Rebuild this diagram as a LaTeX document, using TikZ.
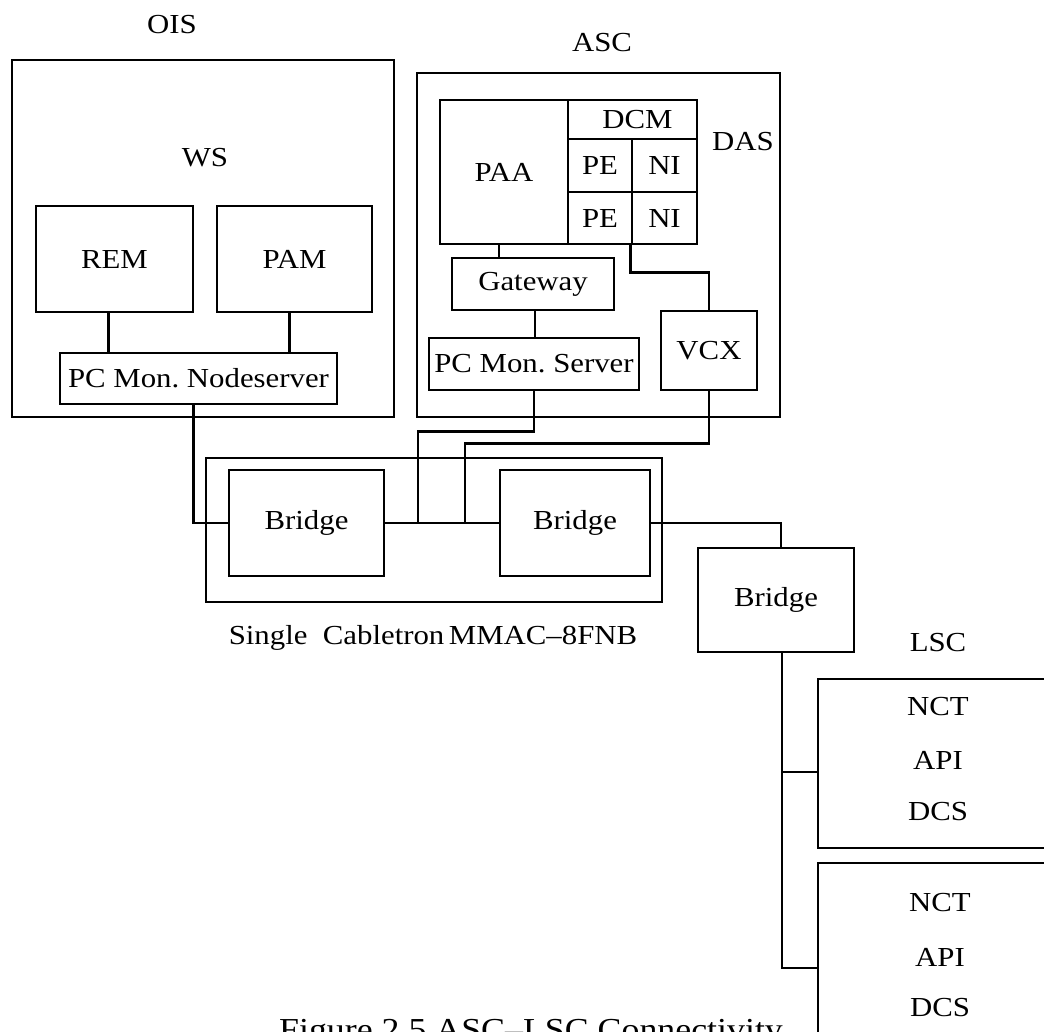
\documentclass[tikz,border=0pt]{standalone}
\usepackage{fontspec}
\setmainfont[FakeStretch=1.12]{Liberation Serif}
\begin{document}
\frenchspacing
\begin{tikzpicture}[x=1pt,y=-1pt,
  lbl/.style={font=\fontsize{27.5}{33}\selectfont, inner sep=0pt},
  box/.style={draw, line width=2.8pt, inner sep=0pt, font=\fontsize{27.5}{33}\selectfont},
  frame/.style={draw, line width=2.5pt, inner sep=0pt},
  wire/.style={line width=2.7pt}]
\useasboundingbox (0,0) rectangle (1044,1032);
% OIS
\node[lbl] (ois) at (172,25) {OIS};
\node[frame, minimum width=382pt, minimum height=357pt] (OIS) at (203,238.5) {};
\node[lbl] (ws) at (205,158) {WS};
\node[box, minimum width=157pt, minimum height=106pt] (REM) at (114.5,259) {REM};
\node[box, minimum width=155pt, minimum height=106pt] (PAM) at (294.5,259) {PAM};
\node[box, minimum width=277pt, minimum height=51pt] (NS) at (198.5,378.5) {PC Mon. Nodeserver};
\draw[wire] ([xshift=-6pt]REM.south) -- ([xshift=-6pt]REM.south |- NS.north);
\draw[wire] ([xshift=-5pt]PAM.south) -- ([xshift=-5pt]PAM.south |- NS.north);
% ASC
\node[lbl] (asc) at (602,43) {ASC};
\node[frame, minimum width=363pt, minimum height=344pt] (ASC) at (598.5,245) {};
\node[lbl] (das) at (743,142) {DAS};
\node[box, minimum width=128pt, minimum height=144pt] (PAA) at (504,172) {PAA};
\node[box, minimum width=129pt, minimum height=39pt, text width=129pt, align=center] (DCM) at (632.5,119.5) {\hspace*{10pt}DCM};
\node[box, minimum width=64pt, minimum height=53pt] (PE1) at (600,165.5) {PE};
\node[box, minimum width=65pt, minimum height=53pt] (NI1) at (664.5,165.5) {NI};
\node[box, minimum width=64pt, minimum height=52pt] (PE2) at (600,218) {PE};
\node[box, minimum width=65pt, minimum height=52pt] (NI2) at (664.5,218) {NI};
\node[box, minimum width=162pt, minimum height=52pt] (GW) at (533,284) {Gateway};
\node[box, minimum width=210pt, minimum height=52pt] (SRV) at (534,364) {PC Mon. Server};
\node[box, minimum width=96pt, minimum height=79pt] (VCX) at (709,350.5) {VCX};
\draw[wire] ([xshift=-5pt]PAA.south) -- ([xshift=-5pt]PAA.south |- GW.north);
\draw[wire] ([xshift=2pt]GW.south) -- ([xshift=2pt]GW.south |- SRV.north);
\draw[wire] (NI2.south west) -- ++(0,27) -| (VCX.north);
% Cabletron
\node[frame, minimum width=456pt, minimum height=144pt] (CAB) at (434,530) {};
\node[box, minimum width=155pt, minimum height=106pt] (B1) at (306.5,523) {Bridge};
\node[box, minimum width=150pt, minimum height=106pt] (B2) at (575,523) {Bridge};
\node[box, minimum width=156pt, minimum height=104pt] (B3) at (776,600) {Bridge};
\node[lbl] (cabl) at (433,638) {Single\ \ Cabletron\,MMAC--8FNB};
\coordinate (j1) at (418,523);
\coordinate (j2) at (465,523);
\draw[wire] (B1.east) -- (B2.west);
\draw[wire] ([xshift=-5pt]NS.south) |- (B1.west);
\draw[wire] (SRV.south) -- ++(0,40) -| (j1);
\draw[wire] (VCX.south) -- ++(0,52) -| (j2);
\draw[wire] (B2.east) -| ([xshift=5pt]B3.north);
% LSC
\node[lbl] (lsc) at (938,643) {LSC};
\node[box, minimum width=252pt, minimum height=169pt] (L1) at (944,763.5) {};
\node[box, minimum width=252pt, minimum height=210pt] (L2) at (944,968) {};
\node[lbl] (n1) at (938,707) {NCT};
\node[lbl] (a1) at (938,760) {API};
\node[lbl] (d1) at (938,812) {DCS};
\node[lbl] (n2) at (940,903) {NCT};
\node[lbl] (a2) at (940,957) {API};
\node[lbl] (d2) at (940,1008) {DCS};
\draw[wire] ([xshift=6pt]B3.south) |- (L2.west);
\draw[wire] ([xshift=6pt]B3.south |- L1.west) ++(0,8.5) -- ([yshift=-8.5pt]L1.west);
% caption
\node[font=\fontsize{32}{38}\selectfont, inner sep=0pt, anchor=base] (cap) at (531,1040) {Figure 2.5 ASC--LSC Connectivity};
\end{tikzpicture}
\end{document}
